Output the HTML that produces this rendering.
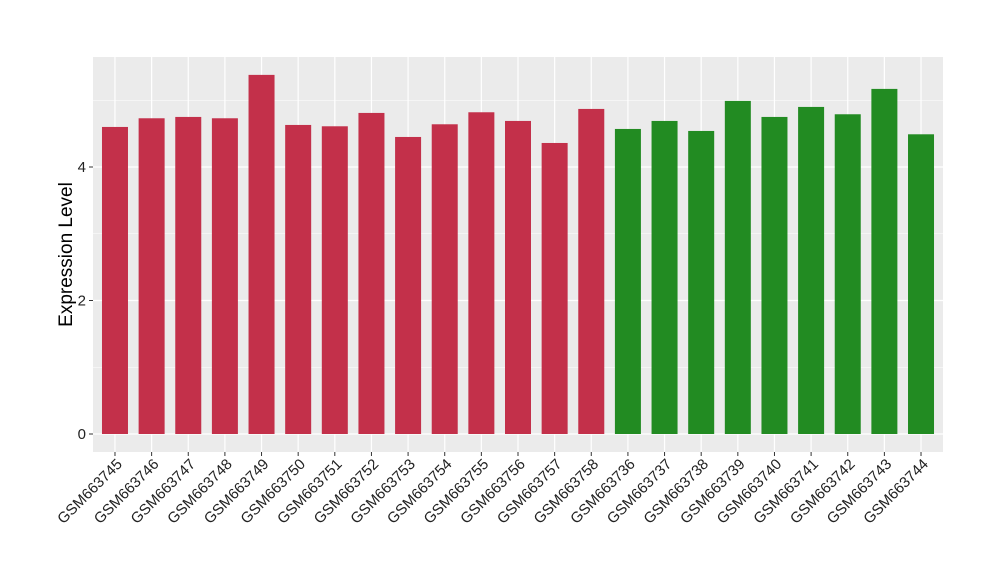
<!DOCTYPE html>
<html><head><meta charset="utf-8"><style>
body{margin:0;background:#fff;}
svg text{font-family:"Liberation Sans",Arial,sans-serif;}
</style></head><body>
<svg id="chart" width="1000" height="580"></svg>
<script>
const categories=["GSM663745","GSM663746","GSM663747","GSM663748","GSM663749","GSM663750","GSM663751","GSM663752","GSM663753","GSM663754","GSM663755","GSM663756","GSM663757","GSM663758","GSM663736","GSM663737","GSM663738","GSM663739","GSM663740","GSM663741","GSM663742","GSM663743","GSM663744"];
const values=[4.60,4.73,4.75,4.73,5.38,4.63,4.61,4.81,4.45,4.64,4.82,4.69,4.36,4.87,4.57,4.69,4.54,4.99,4.75,4.90,4.79,5.17,4.49];
const groups=["a","a","a","a","a","a","a","a","a","a","a","a","a","a","b","b","b","b","b","b","b","b","b"];
const yTicks=[0,2,4];
const NS="http://www.w3.org/2000/svg";
const svg=document.getElementById('chart');
const L=93,R=943,T=57,B=452;
const y0=434,unit=66.75;
function yScale(v){return y0-v*unit;}
const pad=0.6;
const step=(R-L)/(categories.length-1+2*pad);
function xScale(i){return L+step*(i+pad);}
const bw=26;
function mk(tag,attrs){const e=document.createElementNS(NS,tag);for(const k in attrs)e.setAttribute(k,attrs[k]);svg.appendChild(e);return e;}
const panel=mk('rect',{x:L,y:T,width:R-L,height:B-T,fill:'#EBEBEB'});


for(let v=1;v<=5;v+=2){const g=mk('line',{x1:L,x2:R,y1:yScale(v),y2:yScale(v),stroke:'#fff','stroke-width':0.6});

}
yTicks.forEach(v=>{const g=mk('line',{x1:L,x2:R,y1:yScale(v),y2:yScale(v),stroke:'#fff','stroke-width':1.2});


const tk=mk('line',{x1:L-4,x2:L,y1:yScale(v),y2:yScale(v),stroke:'#333','stroke-width':1});


const t=mk('text',{x:L-7,y:yScale(v)+5,'text-anchor':'end','font-size':15,fill:'#222'});t.textContent=v;

});
categories.forEach((c,i)=>{const x=xScale(i);
const g=mk('line',{x1:x,x2:x,y1:T,y2:B,stroke:'#fff','stroke-width':1.2});

});
categories.forEach((c,i)=>{const x=xScale(i);
const b=mk('rect',{x:x-bw/2,y:yScale(values[i]),width:bw,height:y0-yScale(values[i]),fill:groups[i]==='a'?'#C3304A':'#228B22'});


const tk=mk('line',{x1:x,x2:x,y1:B,y2:B+4,stroke:'#333','stroke-width':1});


const t=mk('text',{x:x+8,y:B+13,'text-anchor':'end','font-size':15,fill:'#222',transform:`rotate(-45 ${x+8} ${B+13})`});t.textContent=c;

});
const yt=mk('text',{x:72,y:(T+B)/2,'text-anchor':'middle','font-size':19,fill:'#000',transform:`rotate(-90 72 ${(T+B)/2})`});yt.textContent='Expression Level';


</script>
</body></html>
